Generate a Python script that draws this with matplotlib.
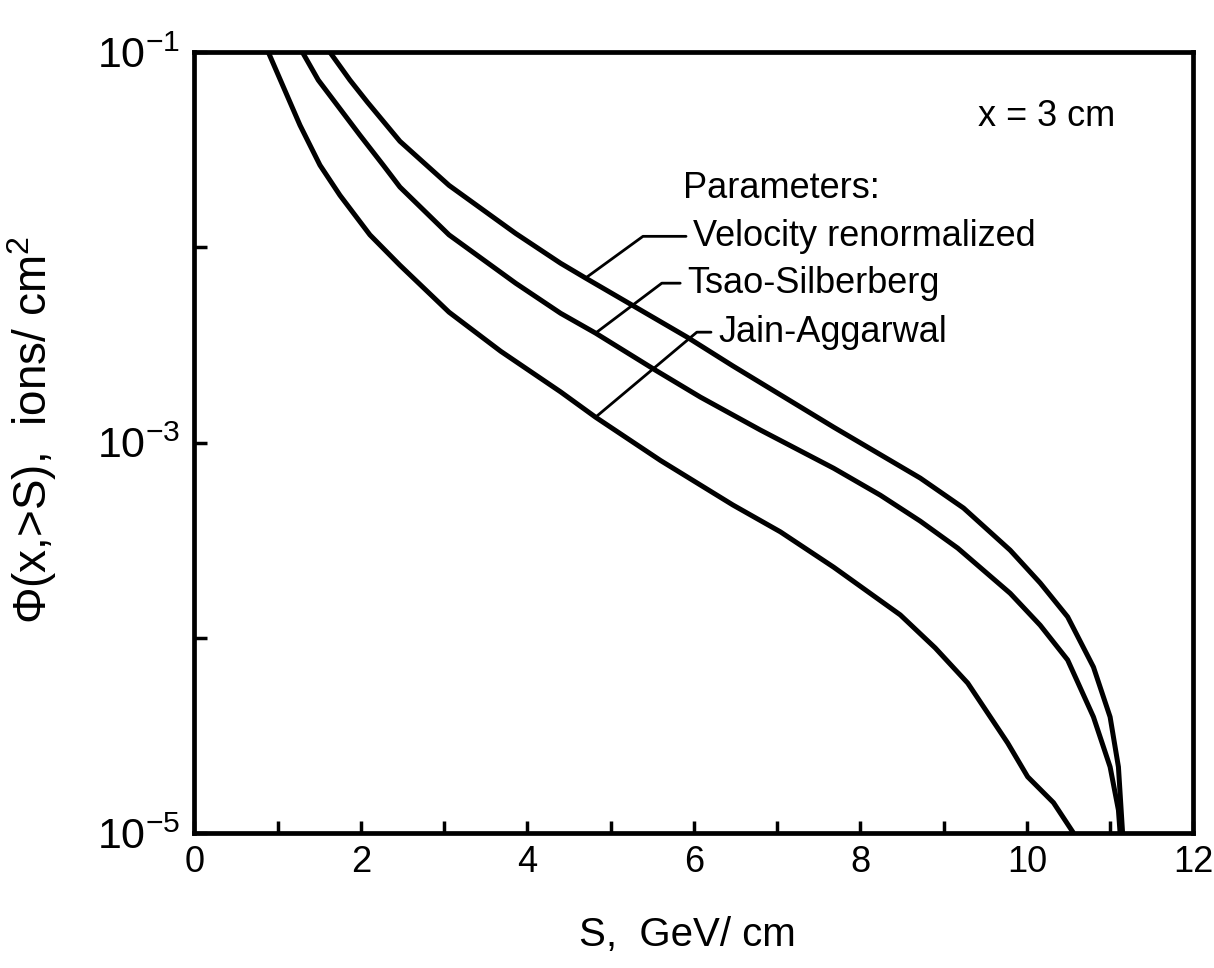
import numpy as np
import matplotlib
matplotlib.use("Agg")
import matplotlib.pyplot as plt
from matplotlib.ticker import FixedLocator, FuncFormatter

# ---- data (S in GeV/cm, flux in ions/cm^2) ----
S_VEL = [1.63, 1.87, 2.08, 2.47, 3.06, 3.86, 4.40, 4.70, 5.36, 5.92, 6.47,
         7.68, 8.72, 9.24, 9.80, 10.16, 10.49, 10.80, 11.00, 11.10, 11.15]
PHI_VEL = [1.0e-1, 7.2e-2, 5.55e-2, 3.5e-2, 2.08e-2, 1.18e-2, 8.3e-3, 6.97e-3,
           4.78e-3, 3.47e-3, 2.47e-3, 1.20e-3, 6.58e-4, 4.62e-4, 2.81e-4,
           1.91e-4, 1.28e-4, 7.08e-5, 3.93e-5, 2.18e-5, 1.0e-5]

S_TSAO = [1.30, 1.49, 1.67, 1.99, 2.27, 2.47, 3.06, 3.86, 4.40, 4.82, 5.54,
          6.08, 6.80, 7.68, 8.24, 8.72, 9.17, 9.80, 10.16, 10.49, 10.80,
          11.00, 11.10, 11.12]
PHI_TSAO = [1.0e-1, 7.2e-2, 5.7e-2, 3.76e-2, 2.64e-2, 2.04e-2, 1.16e-2,
            6.56e-3, 4.6e-3, 3.64e-3, 2.35e-3, 1.71e-3, 1.16e-3, 7.39e-4,
            5.38e-4, 3.96e-4, 2.88e-4, 1.69e-4, 1.16e-4, 7.7e-5, 3.93e-5,
            2.18e-5, 1.31e-5, 1.0e-5]

S_JAIN = [0.89, 1.27, 1.51, 1.75, 2.11, 2.47, 3.06, 3.68, 4.40, 4.82, 5.60,
          6.47, 7.04, 7.68, 8.48, 8.90, 9.29, 9.77, 10.01, 10.32, 10.56]
PHI_JAIN = [1.0e-1, 4.23e-2, 2.64e-2, 1.85e-2, 1.16e-2, 8.11e-3, 4.66e-3,
            2.94e-3, 1.82e-3, 1.35e-3, 8.1e-4, 4.79e-4, 3.49e-4, 2.30e-4,
            1.31e-4, 8.87e-5, 5.86e-5, 2.89e-5, 1.94e-5, 1.43e-5, 1.0e-5]

X_TICKS = [0, 2, 4, 6, 8, 10, 12]
X_MINOR = [1, 3, 5, 7, 9, 11]
Y_TICKS = [1e-5, 1e-4, 1e-3, 1e-2, 1e-1]
Y_LABELED = {-5: "-5", -3: "-3", -1: "-1"}

# label, curve, index of the point the leader starts from, text position, angle
LEADERS = [
    ("Velocity renormalized", S_VEL, PHI_VEL, 7, (5.99, 1.14e-2), 36),
    ("Tsao-Silberberg", S_TSAO, PHI_TSAO, 9, (5.92, 6.56e-3), 37),
    ("Jain-Aggarwal", S_JAIN, PHI_JAIN, 9, (6.29, 3.68e-3), 40),
]

FAM = "Liberation Sans"
plt.rcParams["font.family"] = [FAM, "DejaVu Sans"]
plt.rcParams["mathtext.fontset"] = "custom"
plt.rcParams["mathtext.rm"] = FAM
plt.rcParams["mathtext.default"] = "regular"

LW = 3.6
TXT = 26


def ylab(v, pos):
    e = int(round(np.log10(v)))
    return "$10^{%s}$" % Y_LABELED[e] if e in Y_LABELED else ""


fig = plt.figure(figsize=(12.14, 9.68), dpi=100)
ax = fig.add_axes([0.160, 0.1395, 0.823, 0.8065])

for s, p in [(S_VEL, PHI_VEL), (S_TSAO, PHI_TSAO), (S_JAIN, PHI_JAIN)]:
    ax.plot(s, p, color="black", lw=LW, solid_joinstyle="round",
            solid_capstyle="butt")

ax.set_yscale("log")
ax.set_xlim(0, 12)
ax.set_ylim(1e-5, 1e-1)

for sp in ax.spines.values():
    sp.set_linewidth(3.4)

ax.xaxis.set_major_locator(FixedLocator(X_TICKS))
ax.xaxis.set_minor_locator(FixedLocator(X_MINOR))
ax.yaxis.set_major_locator(FixedLocator(Y_TICKS))
ax.yaxis.set_minor_locator(FixedLocator([]))
ax.yaxis.set_major_formatter(FuncFormatter(ylab))

ax.tick_params(axis="both", which="both", direction="in", top=False, right=False)
ax.tick_params(axis="x", which="major", length=9, width=2.5, labelsize=26, pad=9)
ax.tick_params(axis="x", which="minor", length=9, width=2.5)
ax.tick_params(axis="y", which="major", length=9, width=2.5, labelsize=31, pad=10)

ax.set_xlabel("S,  GeV/ cm", fontsize=29)
ax.xaxis.set_label_coords(0.494, -0.131)
ax.xaxis.label.set_va("center")
ax.set_ylabel("$\\Phi$(x,>S),  ions/ cm$^2$", fontsize=33)
ax.yaxis.set_label_coords(-0.135, 0.516)

ax.text(9.41, 4.7e-2, "x = 3 cm", fontsize=TXT, ha="left", va="center")
ax.text(5.87, 2.0e-2, "Parameters:", fontsize=TXT, ha="left", va="center")

for label, s, p, i, pos, ang in LEADERS:
    ax.annotate(label, xy=(s[i], p[i]), xytext=pos, fontsize=TXT,
                ha="left", va="center",
                arrowprops=dict(arrowstyle="-", lw=2.0, color="black",
                                shrinkA=3, shrinkB=0,
                                connectionstyle="angle,angleA=0,angleB=%d,rad=0" % ang))

fig.savefig("out.png", dpi=100)
